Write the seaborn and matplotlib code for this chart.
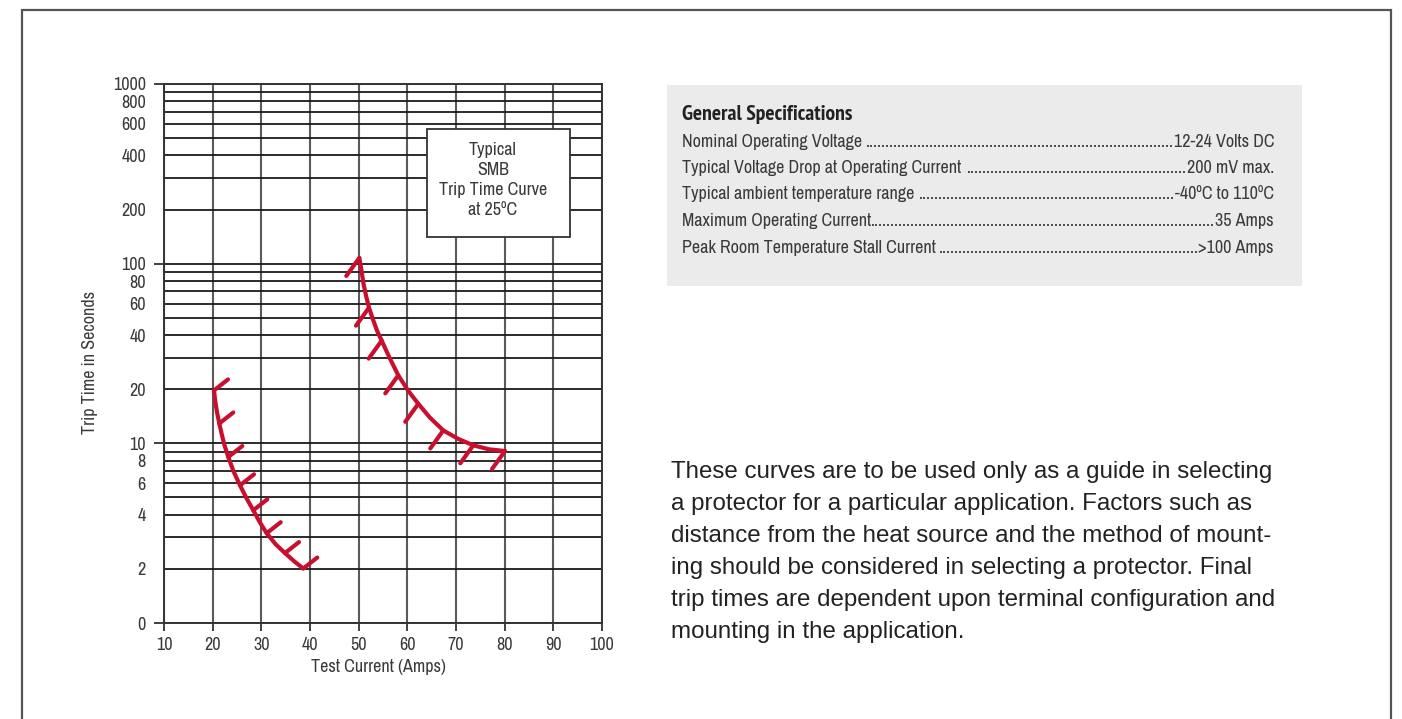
import matplotlib
matplotlib.use("Agg")
import matplotlib.pyplot as plt
from matplotlib.patches import Rectangle
from matplotlib.ticker import FixedLocator, FixedFormatter
from matplotlib import font_manager as fm
import seaborn as sns
import pandas as pd

# ---------------- data ----------------
curve1_x = [20.27, 20.54, 20.89, 21.36, 21.81, 22.43, 23.21, 24.28, 25.62, 26.95,
            28.35, 29.68, 31.10, 32.91, 34.86, 36.71, 38.62]
curve1_y = [19.7, 17.1, 14.9, 12.9, 11.4, 9.75, 8.39, 6.99, 5.84, 4.95,
            4.24, 3.64, 3.16, 2.75, 2.45, 2.21, 2.01]
curve1_hatch_idx = [0, 3, 6, 8, 10, 12, 14, 16]

curve2_x = [50.13, 50.58, 50.99, 51.51, 52.12, 52.94, 53.77, 54.73, 56.33, 58.14,
            60.13, 62.25, 64.65, 67.39, 70.41, 73.55, 76.78, 80.07]
curve2_y = [107.6, 91.4, 77.4, 66.4, 56.9, 48.9, 42.4, 37.3, 30.0, 23.9,
            19.7, 16.6, 13.9, 11.8, 10.6, 9.75, 9.26, 9.06]
curve2_hatch_idx = [0, 4, 7, 9, 11, 13, 15, 17]

x_ticks = [10, 20, 30, 40, 50, 60, 70, 80, 90, 100]
y_major = [1, 10, 100, 1000]
y_major_labels = ["0", "10", "100", "1000"]
y_minor = [m * d for d in [1, 10, 100] for m in range(2, 10)]
y_minor_labels = [str(m * d) if m in (2, 4, 6, 8) else ""
                  for d in [1, 10, 100] for m in range(2, 10)]

box_text = "Typical\nSMB\nTrip Time Curve\nat 25ºC"
x_label = "Test Current (Amps)"
y_label = "Trip Time in Seconds"

spec_title = "General Specifications"
spec_labels = ["Nominal Operating Voltage",
               "Typical Voltage Drop at Operating Current ",
               "Typical ambient temperature range ",
               "Maximum Operating Current",
               "Peak Room Temperature Stall Current"]
spec_values = ["12-24 Volts DC", "200 mV max.", "-40ºC to 110ºC",
               "35 Amps", ">100 Amps"]

paragraph = ["These curves are to be used only as a guide in selecting",
             "a protector for a particular application. Factors such as",
             "distance from the heat source and the method of mount-",
             "ing should be considered in selecting a protector. Final",
             "trip times are dependent upon terminal configuration and",
             "mounting in the application."]

# ---------------- fonts ----------------
sns.set_style("white")
REG = ["Liberation Sans", "DejaVu Sans"]


def find_narrow(bold=False):
    best = None
    for f in fm.fontManager.ttflist:
        nm = f.name
        st = f.stretch
        narrow = ("Narrow" in nm or "Condensed" in nm or
                  (isinstance(st, str) and "condensed" in st and "semi" not in st) or
                  (isinstance(st, (int, float)) and st <= 300))
        if not narrow or f.style != "normal":
            continue
        w = f.weight if isinstance(f.weight, (int, float)) else \
            {"normal": 400, "regular": 400, "bold": 700}.get(str(f.weight), 400)
        want = 700 if bold else 400
        score = abs(w - want)
        pref = 0 if "Narrow" in nm else (1 if "Roboto" in nm else 2)
        key = (score, pref)
        if best is None or key < best[0]:
            best = (key, f)
    return best[1] if best else None


nf = find_narrow(False)
nfb = find_narrow(True)
scale = 1.0 if nf is not None else 0.85

plt.rcParams["font.family"] = ["Liberation Sans", "DejaVu Sans"]
RED = "#c8102e"
TXT = "#3a3a3a"
S = 13 * scale

W, H = 1402, 719
fig = plt.figure(figsize=(W / 100, H / 100), dpi=100)
fig.patch.set_facecolor("white")


def fx(px):
    return px / W


def fy(py):
    return 1 - py / H


def fp(size, bold=False):
    if nf is not None:
        p = fm.FontProperties(fname=(nfb or nf).fname if bold else nf.fname)
    else:
        p = fm.FontProperties(family=["Roboto", "DejaVu Sans"],
                              weight="bold" if bold else "normal")
    p.set_size(size)
    return p


ax = fig.add_axes([fx(164), fy(623), fx(602) - fx(164), fy(84) - fy(623)])
ax.set_facecolor("white")

df1 = pd.DataFrame({"x": curve1_x, "y": curve1_y})
df2 = pd.DataFrame({"x": curve2_x, "y": curve2_y})
for d in (df1, df2):
    sns.lineplot(data=d, x="x", y="y", ax=ax, color=RED, lw=3, estimator=None,
                 sort=False, zorder=5)
for ln in ax.lines:
    ln.set_solid_capstyle("round")
    ln.set_solid_joinstyle("round")

ax.set_yscale("log")
ax.set_xlim(10, 100)
ax.set_ylim(1, 1000)

# hatches
for xs, ys, idx, (dx, dy) in [(curve1_x, curve1_y, curve1_hatch_idx, (14, 11)),
                              (curve2_x, curve2_y, curve2_hatch_idx, (-13, -18))]:
    for i in idx:
        ax.annotate("", xy=(xs[i], ys[i]), xytext=(dx, dy), textcoords="offset pixels",
                    arrowprops=dict(arrowstyle="-", color=RED, lw=3,
                                    shrinkA=0, shrinkB=0),
                    zorder=5, annotation_clip=False)

# ticks
ax.set_xticks(x_ticks)
ax.set_xticklabels([str(v) for v in x_ticks])
ax.yaxis.set_major_locator(FixedLocator(y_major))
ax.yaxis.set_major_formatter(FixedFormatter(y_major_labels))
ax.yaxis.set_minor_locator(FixedLocator(y_minor))
ax.yaxis.set_minor_formatter(FixedFormatter(y_minor_labels))

ax.tick_params(axis="x", which="major", direction="out", length=6, width=1.3,
               color="#333333", pad=4, labelcolor=TXT, bottom=True)
ax.tick_params(axis="y", which="major", direction="out", length=7, width=1.3,
               color="#333333", pad=6, labelcolor=TXT, left=True)
ax.tick_params(axis="y", which="minor", length=0, pad=13, labelcolor=TXT, left=True)
for lab in ax.get_xticklabels() + ax.get_yticklabels() + ax.get_yticklabels(minor=True):
    lab.set_fontproperties(fp(S))

ax.grid(True, axis="x", which="major", color="#5a5a5a", lw=1.5, zorder=1)
ax.grid(True, axis="y", which="both", color="#1a1a1a", lw=1.3, zorder=1)
ax.set_axisbelow(True)
for s in ax.spines.values():
    s.set_color("#333333")
    s.set_linewidth(1.4)
ax.set_xlabel("")
ax.set_ylabel("")

# label box
ax.add_patch(Rectangle((0.600, 0.717), 0.327, 0.200, transform=ax.transAxes,
                       facecolor="white", edgecolor="#333333", lw=1.3, zorder=4))
ax.text(0.751, 0.822, box_text, transform=ax.transAxes, ha="center", va="center",
        fontproperties=fp(S), color=TXT, linespacing=1.32, zorder=6)

fig.text(fx(378), fy(667), x_label, ha="center", va="center",
         fontproperties=fp(S), color=TXT)
fig.text(fx(90), fy(362), y_label, ha="center", va="center", rotation=90,
         fontproperties=fp(S), color=TXT)

# outer frame
fig.add_artist(Rectangle((fx(22), fy(760)), fx(1391) - fx(22), fy(10) - fy(760),
                         transform=fig.transFigure, facecolor="none",
                         edgecolor="#555555", lw=1.6, clip_on=False))

# spec panel
fig.add_artist(Rectangle((fx(667), fy(286)), fx(1302) - fx(667), fy(85) - fy(286),
                         transform=fig.transFigure, facecolor="#ebebeb",
                         edgecolor="none", zorder=0))
fig.text(fx(682), fy(120), spec_title, ha="left", va="baseline",
         fontproperties=fp(S * 1.2, bold=True), color="#222222")

fig.canvas.draw()
renderer = fig.canvas.get_renderer()
probe = fig.text(0, 0, "." * 40, fontproperties=fp(S))
dot_w = probe.get_window_extent(renderer).width / 40
probe.remove()

baselines = [147, 173, 199, 226, 253]
for lab, val, yb in zip(spec_labels, spec_values, baselines):
    t1 = fig.text(fx(682), fy(yb), lab, ha="left", va="baseline",
                  fontproperties=fp(S), color=TXT)
    t2 = fig.text(fx(1274), fy(yb), val, ha="right", va="baseline",
                  fontproperties=fp(S), color=TXT)
    b1 = t1.get_window_extent(renderer)
    b2 = t2.get_window_extent(renderer)
    n = int((b2.x0 - b1.x1) / dot_w)
    fig.text(b2.x0 / W, fy(yb), "." * max(n, 0), ha="right", va="baseline",
             fontproperties=fp(S), color=TXT)

# paragraph
para_baselines = [478, 510, 542, 574, 606, 638]
for line, yb in zip(paragraph, para_baselines):
    fig.text(fx(671), fy(yb), line, ha="left", va="baseline", fontsize=17.4,
             family=REG, color="#222222")

fig.savefig("out.png", dpi=100)
